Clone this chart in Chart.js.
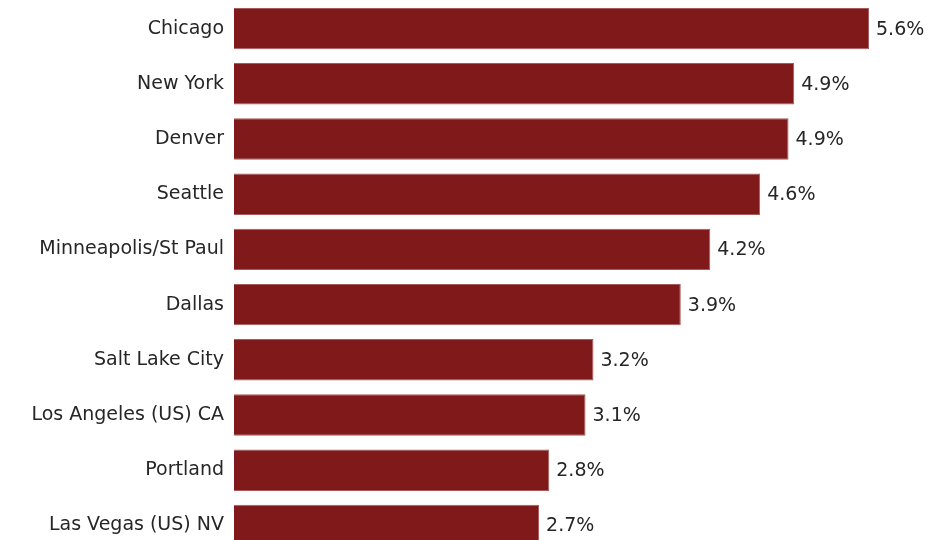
<!DOCTYPE html>
<html>
<head>
<meta charset="utf-8">
<script src="https://cdn.jsdelivr.net/npm/chart.js@4.4.1/dist/chart.umd.min.js"></script>
<style>
    html, body { margin: 0; padding: 0; background: #fff; overflow: hidden; }
</style>
</head>
<body>
<canvas id="cityChart" width="928" height="553"></canvas>
<script>
// city names, top to bottom
const cities = [
    "Chicago", "New York", "Denver", "Seattle", "Minneapolis/St Paul",
    "Dallas", "Salt Lake City", "Los Angeles (US) CA", "Portland", "Las Vegas (US) NV"
];

// percent values
const values = [5.6, 4.94, 4.89, 4.64, 4.2, 3.94, 3.17, 3.1, 2.78, 2.69];

const barColor = '#7f191a';
const textColor = '#262626';
const fontFamily = 'DejaVu Sans';
const fontSize = 19;

Chart.defaults.font.family = fontFamily;

// draws "x.x%" just past the end of each bar
const valueLabels = {
    id: 'valueLabels',
    afterDatasetsDraw(chart) {
        const ctx = chart.ctx;
        const meta = chart.getDatasetMeta(0);
        ctx.save();
        ctx.font = fontSize + 'px "' + fontFamily + '"';
        ctx.fillStyle = textColor;
        ctx.textAlign = 'left';
        ctx.textBaseline = 'middle';
        meta.data.forEach((bar, i) => {
            ctx.fillText(values[i].toFixed(1) + '%', bar.x + 7, bar.y + 1);
        });
        ctx.restore();
    }
};

const ctx = document.getElementById('cityChart').getContext('2d');
const cityChart = new Chart(ctx, {
    type: 'bar',
    data: {
        labels: cities,
        datasets: [{
            data: values,
            backgroundColor: barColor,
            borderColor: '#a85a5a',
            borderWidth: 1,
            categoryPercentage: 1,
            barPercentage: 0.75
        }]
    },
    options: {
        responsive: false,
        indexAxis: 'y',
        animation: false,
        layout: { padding: { top: 1, left: 0, right: 0, bottom: 0 } },
        plugins: {
            legend: { display: false },
            tooltip: { enabled: false }
        },
        scales: {
            x: {
                display: false,
                min: 0,
                max: 6.12
            },
            y: {
                grid: { display: false, drawTicks: false },
                border: { display: false },
                ticks: {
                    color: textColor,
                    font: { size: fontSize },
                    padding: 10
                },
                afterFit(scale) {
                    scale.width = 234;
                    scale.paddingTop = 0;
                    scale.paddingBottom = 0;
                }
            }
        }
    },
    plugins: [valueLabels]
});
</script>
</body>
</html>
